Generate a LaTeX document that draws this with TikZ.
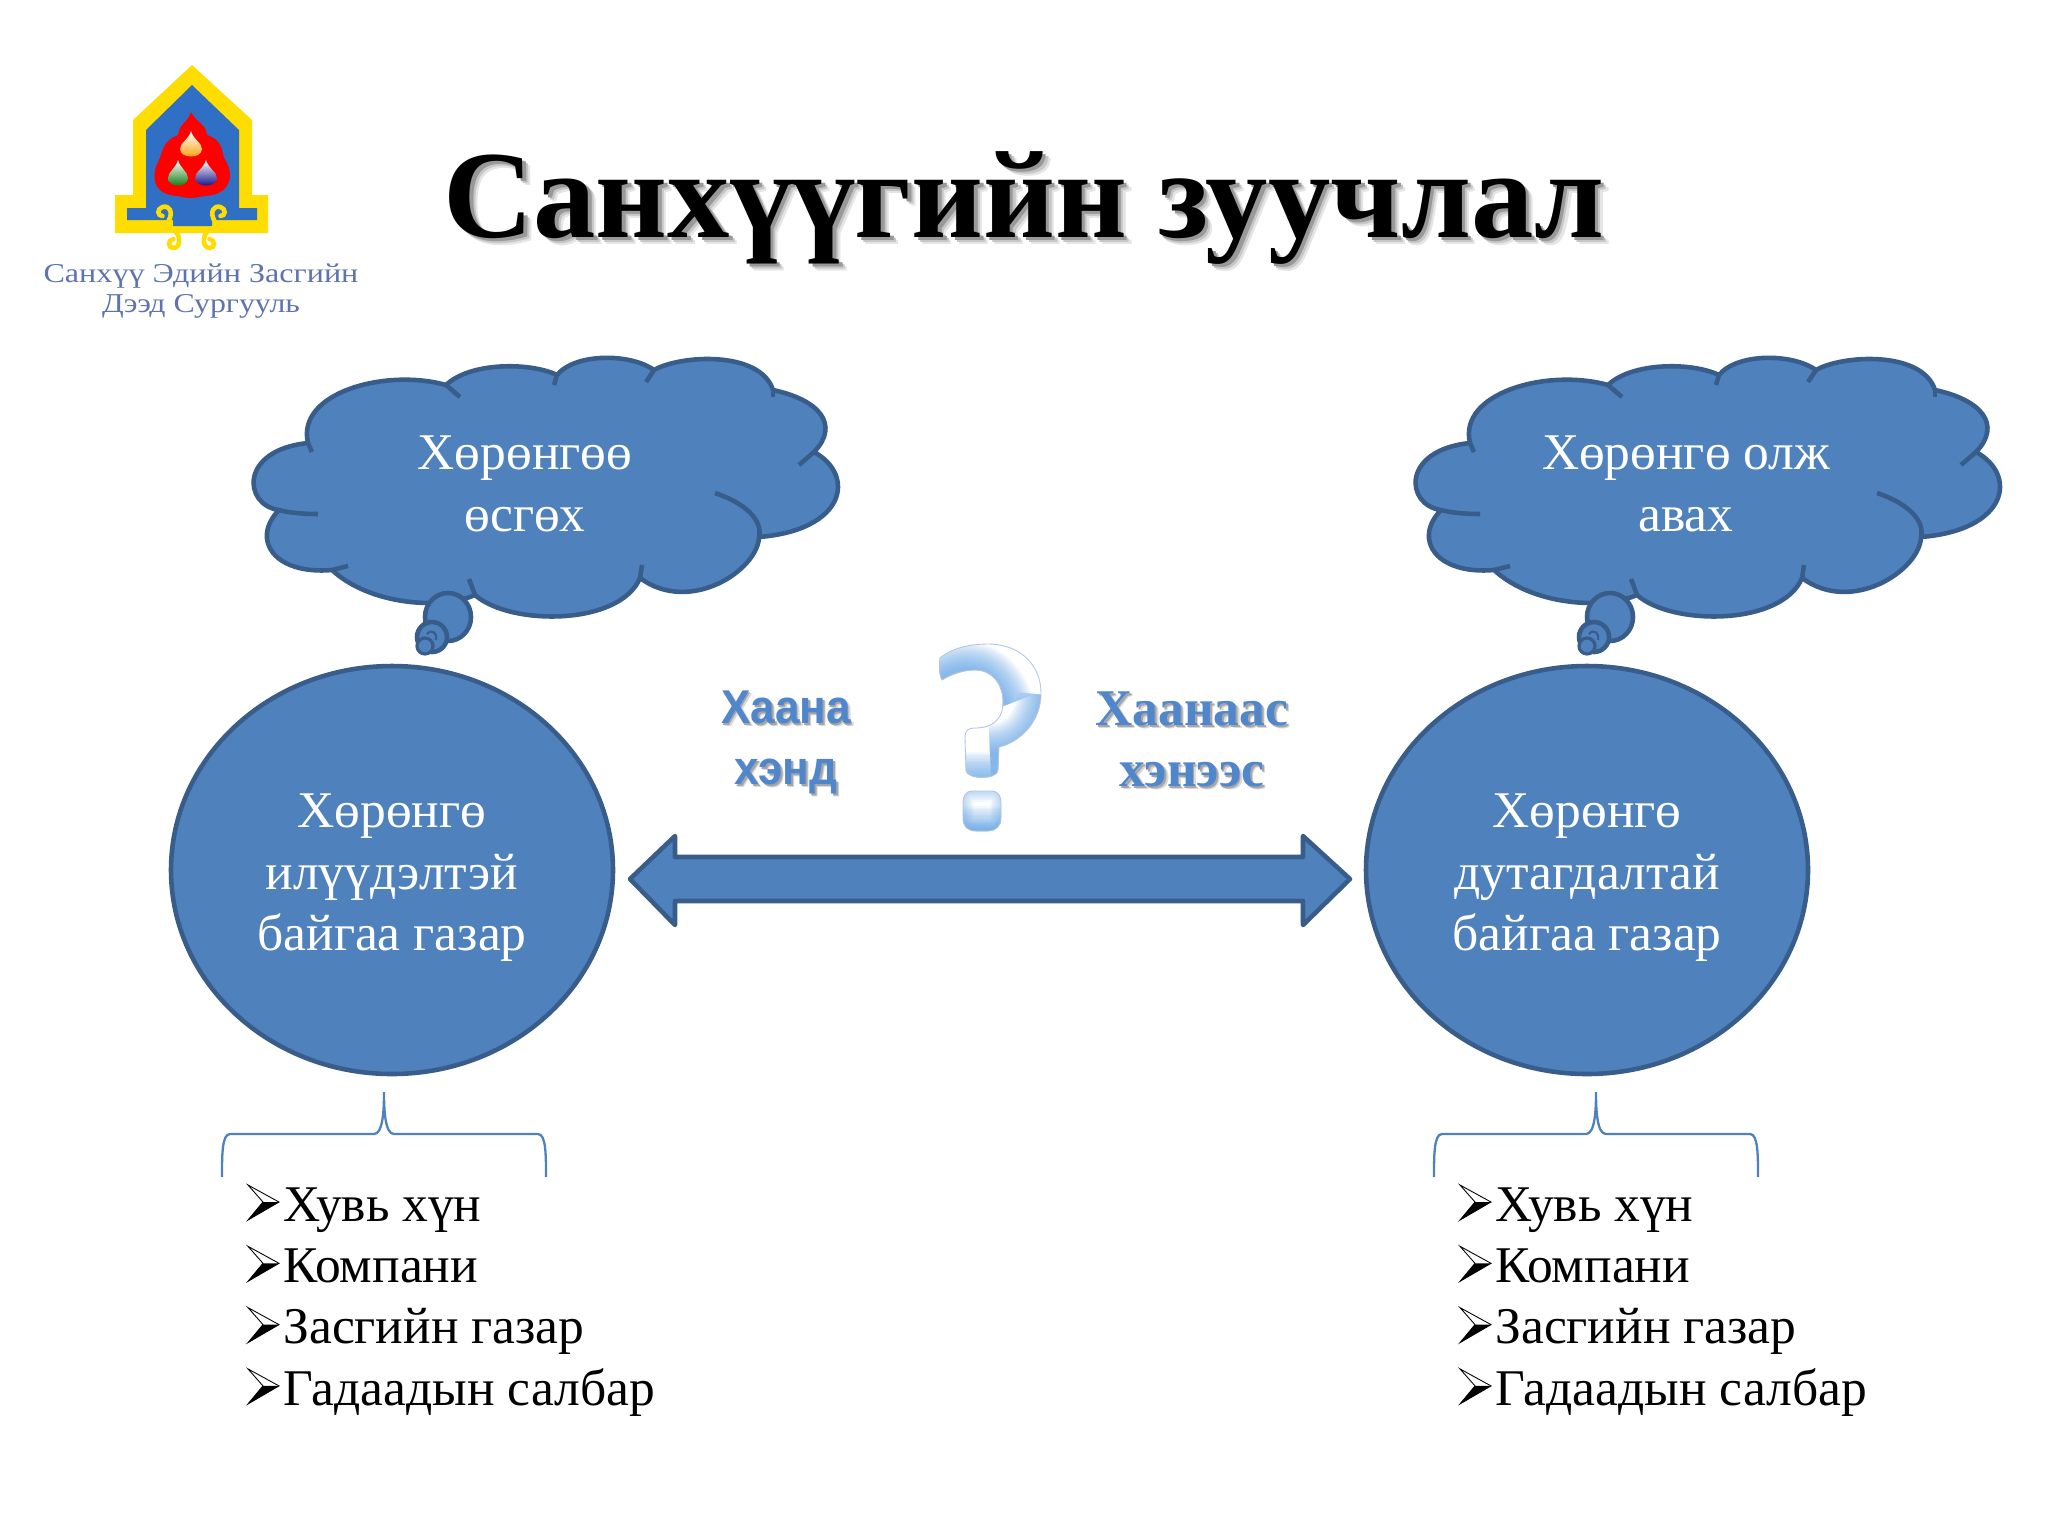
\documentclass[tikz,border=0pt]{standalone}
\usepackage{fontspec}
\setmainfont{Liberation Serif}
\newfontfamily\arialfont{Liberation Sans}
\usetikzlibrary{shapes.geometric}

\definecolor{shapefill}{HTML}{4F81BD}
\definecolor{shapeline}{HTML}{385D8A}
\definecolor{labelblue}{HTML}{4F86CC}
\definecolor{logoblue}{HTML}{2F6FC4}
\definecolor{logoyellow}{HTML}{FFDD00}
\definecolor{logotext}{HTML}{5F74AE}
\definecolor{questblue}{HTML}{5AA0E8}
\definecolor{questline}{HTML}{B4C6DE}

\tikzset{
  whitetext/.style={text=white,align=center,font=\fontsize{29.3}{35}\selectfont},
  bigcircle/.style={ellipse,draw=shapeline,line width=2.6pt,fill=shapefill,minimum width=442*0.02cm,minimum height=408*0.02cm,inner sep=0pt},
  blob/.style={draw=shapeline,line width=2.6pt,fill=shapefill},
  bracketline/.style={draw=shapefill,line width=1.3pt},
  listtext/.style={align=left,anchor=north west,inner sep=0pt,font=\fontsize{29.3}{34.9}\selectfont},
  sanslabel/.style={align=center,font=\arialfont\bfseries\fontsize{27}{34.9}\selectfont},
  seriflabel/.style={align=center,font=\bfseries\fontsize{29.3}{34.9}\selectfont},
  titletext/.style={anchor=base,font=\bfseries\fontsize{71}{80}\selectfont},
  softband/.style={questblue,opacity=0.07},
  pics/thoughtcloud/.style={code={
    \draw[blob,line join=round] (279,510) .. controls (243,505) and (239,450) .. (308,443)
      .. controls (296,393) and (385,368) .. (446,385)
      .. controls (470,362) and (530,362) .. (557,375)
      .. controls (575,353) and (630,353) .. (654,370)
      .. controls (680,355) and (760,350) .. (773,390)
      .. controls (820,400) and (840,425) .. (814,452)
      .. controls (856,475) and (846,530) .. (759,537)
      .. controls (758,570) and (690,615) .. (640,578)
      .. controls (620,626) and (510,626) .. (475,595)
      .. controls (440,610) and (370,605) .. (332,570)
      .. controls (275,575) and (250,540) .. (279,510) -- cycle;
    % inner ends of the lobes
    \draw[blob,fill=none] (279,510) .. controls (290,513) and (305,514) .. (318,514);
    \draw[blob,fill=none] (308,443) -- (312,452);
    \draw[blob,fill=none] (446,385) -- (460,397);
    \draw[blob,fill=none] (557,375) -- (554,385);
    \draw[blob,fill=none] (654,370) -- (646,382);
    \draw[blob,fill=none] (773,390) -- (773,397);
    \draw[blob,fill=none] (814,452) -- (799,465);
    \draw[blob,fill=none] (715,493) .. controls (745,503) and (763,520) .. (759,537);
    \draw[blob,fill=none] (640,578) -- (642,565);
    \draw[blob,fill=none] (475,595) -- (469,579);
    \draw[blob,fill=none] (332,570) -- (348,566);
    % tail
    \draw[blob] (448,617) ellipse (23 and 24);
    \draw[blob] (432,637) ellipse (15 and 15);
    \draw[blob,line width=1.8pt] (425,646) ellipse (8 and 8);
    \draw[draw=shapeline,line width=1.2pt] (427,634) .. controls (432,628) and (438,634) .. (436,640);
  }},
  pics/bracketup/.style={code={
    \draw[bracketline] (222,1177) .. controls (222,1155) and (222,1134) .. (230,1134) -- (374,1134)
      .. controls (383,1134) and (384,1110) .. (384,1092)
      .. controls (384,1110) and (385,1134) .. (394,1134) -- (538,1134)
      .. controls (546,1134) and (546,1155) .. (546,1177);
  }},
  pics/listarrow/.style={code={
    \draw[line width=0.5pt,fill=white,line join=miter] (0,0)--(31,17)--(0,35)--(15,17)--cycle;
    \fill[black] (0,35)--(31,17)--(15,17)--cycle;
  }}
}

\newcommand{\softcopy}[3]{\rlap{\kern#1\raisebox{-#1}{\textcolor{#2}{#3}}}}
\newcommand{\titleshadow}[1]{\softcopy{4.4pt}{black!10}{#1}\softcopy{3.2pt}{black!22}{#1}\softcopy{2pt}{black!40}{#1}#1}
\newcommand{\labelshadow}[1]{\softcopy{1.8pt}{black!15}{#1}\softcopy{1pt}{black!35}{#1}#1}
\newcommand{\partylist}{Хувь хүн\\Компани\\Засгийн газар\\Гадаадын салбар}
\newcommand{\logodrop}[5]{\shade[top color=white,middle color=#4,bottom color=#5]
  (#1,#2) .. controls (#1+2,#2+8) and (#1+#3,#2+12) .. (#1+#3,#2+18)
  .. controls (#1+#3,#2+28) and (#1-#3,#2+28) .. (#1-#3,#2+18)
  .. controls (#1-#3,#2+12) and (#1-2,#2+8) .. (#1,#2) -- cycle;}
\newcommand{\questpath}{(940,658) .. controls (952,648) and (970,644) .. (988,644)
  .. controls (1020,644) and (1041,665) .. (1041,693)
  .. controls (1041,722) and (1020,742) .. (999,747)
  -- (998,770) .. controls (998,780) and (966,780) .. (966,770)
  -- (965,738) .. controls (965,730) and (968,728) .. (975,728)
  .. controls (992,728) and (1003,720) .. (1003,702)
  .. controls (1003,684) and (992,670) .. (975,670)
  .. controls (962,670) and (950,675) .. (942,680)
  .. controls (939,675) and (939,665) .. (940,658) -- cycle}
\newcommand{\questdot}{(972,791) -- (992,791) .. controls (998,791) and (1001,796) .. (1001,803)
  -- (1001,818) .. controls (1001,827) and (995,831) .. (988,831) -- (976,831)
  .. controls (968,831) and (963,827) .. (963,818) -- (963,803) .. controls (963,796) and (966,791) .. (972,791) -- cycle}

\begin{document}
\begin{tikzpicture}[x=0.02cm,y=-0.02cm]
\useasboundingbox[fill=white] (0,0) rectangle (2048,1536);

% logo
\fill[logoyellow] (192,65)--(252,120)--(252,195)--(268,195)--(268,233)--(115,233)--(115,195)--(133,195)--(133,120)--cycle;
\fill[logoblue] (192,85)--(239,130)--(239,208)--(257,208)--(257,220)--(212,220)--(212,226)--(173,226)--(173,220)--(127,220)--(127,208)--(146,208)--(146,130)--cycle;
\fill[red] (191,112) .. controls (198,125) and (205,122) .. (207,135)
  .. controls (222,140) and (222,150) .. (224,158) .. controls (236,175) and (230,195) .. (205,196)
  .. controls (198,197) and (194,198) .. (191,198) .. controls (186,198) and (182,197) .. (178,196)
  .. controls (152,195) and (150,175) .. (160,158) .. controls (163,148) and (165,140) .. (178,135)
  .. controls (180,122) and (186,125) .. (191,112) -- cycle;
\logodrop{191}{131}{11}{yellow!70}{orange!80!yellow}
\logodrop{178}{160}{10}{green!20}{green!45!black}
\logodrop{206}{160}{11}{cyan!50}{blue!50!black}
\foreach \s in {1,-1}{
\begin{scope}[shift={(191.5,0)},xscale=\s]
\draw[logoyellow,line width=2.6pt,line cap=round] (-23,221) .. controls (-18,212) and (-22,205) .. (-29,207) .. controls (-35,209) and (-34,216) .. (-29,216);
\draw[logoyellow,line width=2.6pt,line cap=round] (-21,228) .. controls (-10,232) and (-10,248) .. (-18,248) .. controls (-24,248) and (-24,240) .. (-18,239);
\end{scope}
}
\node[text=logotext,font=\fontsize{15.5}{17}\selectfont,align=center] (logoname) at (201,291) {\scalebox{1.18}[1]{Санхүү Эдийн Засгийн}\\\scalebox{1.17}[1]{Дээд Сургууль}};

% title
\node[titletext] (title) at (1024,237) {\titleshadow{Санхүүгийн зуучлал}};

% clouds
\pic at (0,0) {thoughtcloud};
\pic at (1162,0) {thoughtcloud};
\node[whitetext] (cloudL) at (525,484) {Хөрөнгөө\\өсгөх};
\node[whitetext] (cloudR) at (1686,484) {Хөрөнгө олж\\авах};

% circles
\node[bigcircle] (surplus) at (392,870) {};
\node[bigcircle] (deficit) at (1587,870) {};
\node[whitetext] (surplustext) at (392,878) {Хөрөнгө\\илүүдэлтэй\\байгаа газар};
\node[whitetext] (deficittext) at (1587,878) {Хөрөнгө\\дутагдалтай\\байгаа газар};

% double arrow
\draw[blob,line join=round] (630,879)--(675,836)--(675,857)--(1303,857)--(1303,836)--(1350,879)--(1303,925)--(1303,901)--(675,901)--(675,925)--cycle;

% labels
\node[sanslabel,text=labelblue] (whereto) at (786,744) {\scalebox{0.93}[1]{\labelshadow{Хаана}}\\\scalebox{0.93}[1]{\labelshadow{хэнд}}};
\node[seriflabel,text=labelblue] (wherefrom) at (1192,741) {\labelshadow{Хаанаас}\\\labelshadow{хэнээс}};

% question mark
\begin{scope}
\clip \questpath;
\foreach \w in {32,30,...,2}{
  \draw[softband,line width=\w pt] (930,686) .. controls (955,664) and (990,660) .. (1006,705);
  \draw[softband,line width=\w pt] (1045,695) .. controls (1042,730) and (1020,752) .. (990,752);
  \draw[softband,line width=\w pt] (950,780)--(1014,780);
}
\end{scope}
\draw[questline,line width=0.5pt] \questpath;
\begin{scope}
\clip \questdot;
\foreach \w in {32,30,...,2}{
  \draw[softband,line width=\w pt] (950,834)--(1014,834);
}
\foreach \w in {12,10,...,2}{
  \draw[softband,line width=\w pt] \questdot;
}
\end{scope}
\draw[questline,line width=0.5pt] \questdot;

% brackets
\pic at (0,0) {bracketup};
\pic at (1212,0) {bracketup};

% lists
\foreach \k in {0,1,2,3}{
  \pic at (248,{1185+61.3*\k}) {listarrow};
  \pic at (1460,{1185+61.3*\k}) {listarrow};
}
\node[listtext] (listL) at (283,1187) {\partylist};
\node[listtext] (listR) at (1495,1187) {\partylist};
\end{tikzpicture}
\end{document}
